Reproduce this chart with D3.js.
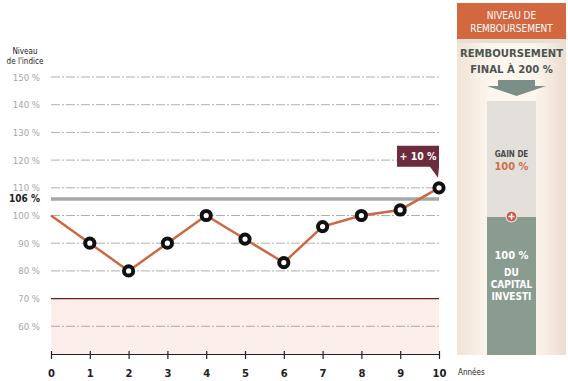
<!DOCTYPE html>
<html><head><meta charset="utf-8">
<script src="https://cdn.jsdelivr.net/npm/d3@7"></script>
<style>body{margin:0;background:#fff}svg{display:block}</style>
</head><body>
<script>
const years = [0,1,2,3,4,5,6,7,8,9,10];
const indexValues = [100,90,80,90,100,91.5,83,96,100,102,110];
const yTicks = [60,70,80,90,100,110,120,130,140,150];
const barrierLevel = 70;
const thresholdLevel = 106;
const calloutText = "+ 10 %";

const W = 568, H = 381;
const svg = d3.select("body").append("svg").attr("width",W).attr("height",H);
const defs = svg.append("defs");

const x = d3.scaleLinear().domain([0,10]).range([51,439]);
const y = d3.scaleLinear().domain([50,150]).range([354,77]);

// right panel
const grad = defs.append("linearGradient").attr("id","pg").attr("x1","0").attr("x2","1");
grad.append("stop").attr("offset","0").attr("stop-color","#f1e3d6");
grad.append("stop").attr("offset","0.3").attr("stop-color","#fdf6ee");
grad.append("stop").attr("offset","0.7").attr("stop-color","#fdf6ee");
grad.append("stop").attr("offset","1").attr("stop-color","#eddcd0");
svg.append("rect").attr("x",457).attr("y",3).attr("width",109).attr("height",352).attr("fill","url(#pg)");
svg.append("rect").attr("x",457).attr("y",3).attr("width",109).attr("height",36).attr("fill","#d3673f");
svg.append("rect").attr("x",457).attr("y",39).attr("width",109).attr("height",4).attr("fill","#e6dfd5");
const cf = "'Liberation Sans Narrow','DejaVu Sans Condensed',sans-serif";
svg.append("text").attr("x",511.5).attr("y",19).attr("text-anchor","middle").attr("fill","#fff")
  .style("font-family",cf).style("font-size","10px").text("NIVEAU DE");
svg.append("text").attr("x",511.5).attr("y",32).attr("text-anchor","middle").attr("fill","#fff")
  .style("font-family",cf).style("font-size","10px").text("REMBOURSEMENT");
svg.append("text").attr("x",511.5).attr("y",57).attr("text-anchor","middle").attr("fill","#4b5550")
  .style("font-family",cf).style("font-size","11.2px").style("font-weight","bold").text("REMBOURSEMENT");
svg.append("text").attr("x",511.5).attr("y",73).attr("text-anchor","middle").attr("fill","#4b5550")
  .style("font-family",cf).style("font-size","11.2px").style("font-weight","bold").text("FINAL  À 200 %");
// arrow
svg.append("path").attr("d","M498,80 L535,80 L535,86 L546,86 L516.5,96 L487,86 L498,86 Z").attr("fill","#7b8f88");
// gain box
svg.append("rect").attr("x",487).attr("y",101).attr("width",49).attr("height",116).attr("fill","#e3e0db");
svg.append("rect").attr("x",487).attr("y",217).attr("width",49).attr("height",138).attr("fill","#8a9c90");
svg.append("text").attr("x",511.5).attr("y",157).attr("text-anchor","middle").attr("fill","#4b4b4b")
  .style("font-family",cf).style("font-size","8px").style("font-weight","bold").text("GAIN DE");
svg.append("text").attr("x",511.5).attr("y",170).attr("text-anchor","middle").attr("fill","#d0704a")
  .style("font-family",cf).style("font-size","11px").style("font-weight","bold").text("100 %");
svg.append("circle").attr("cx",511.5).attr("cy",216.5).attr("r",6).attr("fill","#f1dcd6");
svg.append("circle").attr("cx",511.5).attr("cy",216.5).attr("r",4.8).attr("fill","#c9584a");
svg.append("path").attr("d","M508.5,216.5 H514.5 M511.5,213.5 V219.5").attr("stroke","#fff").attr("stroke-width",1.6);
["100 %","DU","CAPITAL","INVESTI"].forEach((t,i)=>{
  svg.append("text").attr("x",511.5).attr("y",[259,276,288,300][i]).attr("text-anchor","middle").attr("fill","#fff")
    .style("font-family",cf).style("font-size",i==0?"11px":"10px").style("font-weight","bold").text(t);
});

// barrier band
svg.append("rect").attr("x",x(0)).attr("y",y(barrierLevel)).attr("width",x(10)-x(0)).attr("height",y(50)-y(barrierLevel))
  .attr("fill","#fbeeeb");

// gridlines
const lf = "'Liberation Sans Narrow','DejaVu Sans Condensed',sans-serif";
svg.append("g").selectAll("line").data(yTicks).join("line")
  .attr("x1",x(0)).attr("x2",x(10)).attr("y1",d=>y(d)).attr("y2",d=>y(d))
  .attr("stroke",d=>d===barrierLevel?"#6b1f24":"#9a9a9a")
  .attr("stroke-width",d=>d===barrierLevel?1.2:0.8)
  .attr("stroke-dasharray",d=>d===barrierLevel?null:"9,2,2,2");
svg.append("g").selectAll("text").data(yTicks).join("text")
  .attr("x",40).attr("y",d=>y(d)+3.5).attr("text-anchor","end").attr("fill","#a6a6a6")
  .style("font-family",lf).style("font-size","9.5px").text(d=>d+" %");

// threshold line
svg.append("line").attr("x1",x(0)).attr("x2",x(10)).attr("y1",y(thresholdLevel)).attr("y2",y(thresholdLevel))
  .attr("stroke","#a7a7a7").attr("stroke-width",3.5);
svg.append("text").attr("x",40).attr("y",y(thresholdLevel)+3.5).attr("text-anchor","end").attr("fill","#222")
  .style("font-family",lf).style("font-size","10px").style("font-weight","bold").text(thresholdLevel+" %");

// title
svg.append("text").attr("x",25).attr("y",54).attr("text-anchor","middle").attr("fill","#222")
  .style("font-family",lf).style("font-size","8px").text("Niveau");
svg.append("text").attr("x",25).attr("y",64).attr("text-anchor","middle").attr("fill","#222")
  .style("font-family",lf).style("font-size","8px").text("de l'indice");

// x axis
const xAxis = svg.append("g").attr("transform",`translate(0,${y(50)})`)
  .call(d3.axisBottom(x).tickValues(years).tickSize(5).tickSizeOuter(0).tickFormat(d3.format("d")));
xAxis.select(".domain").attr("stroke","#222").attr("stroke-width",1.2);
xAxis.selectAll(".tick line").attr("stroke","#222").attr("stroke-width",1.2).attr("y1",-3);
xAxis.selectAll(".tick text").attr("y",16).attr("fill","#222").style("font-family","'DejaVu Sans',sans-serif")
  .style("font-size","10px").style("font-weight","bold");
svg.append("text").attr("x",458).attr("y",375).attr("fill","#222").style("font-family",lf).style("font-size","8px").text("Années");

// line
const data = years.map((yr,i)=>({yr, v:indexValues[i]}));
svg.append("path").datum(data).attr("fill","none").attr("stroke","#c96a43").attr("stroke-width",2.5)
  .attr("d",d3.line().x(d=>x(d.yr)).y(d=>y(d.v)));
svg.append("g").selectAll("circle").data(data.slice(1)).join("circle")
  .attr("cx",d=>x(d.yr)).attr("cy",d=>y(d.v)).attr("r",4.6)
  .attr("fill","#fff").attr("stroke","#111").attr("stroke-width",4);

// callout
const last = data[data.length-1];
const cx = x(last.yr), cyy = y(last.v);
svg.append("path").attr("d",`M${cx-42},${cyy-42} H${cx} V${cyy-21} L${cx-1},${cyy-10} L${cx-9},${cyy-21} H${cx-42} Z`)
  .attr("fill","#6d2c3c");
svg.append("text").attr("x",cx-21).attr("y",cyy-27.5).attr("text-anchor","middle").attr("fill","#fff")
  .style("font-family",cf).style("font-size","10.5px").style("font-weight","bold").text(calloutText);
</script>
</body></html>
